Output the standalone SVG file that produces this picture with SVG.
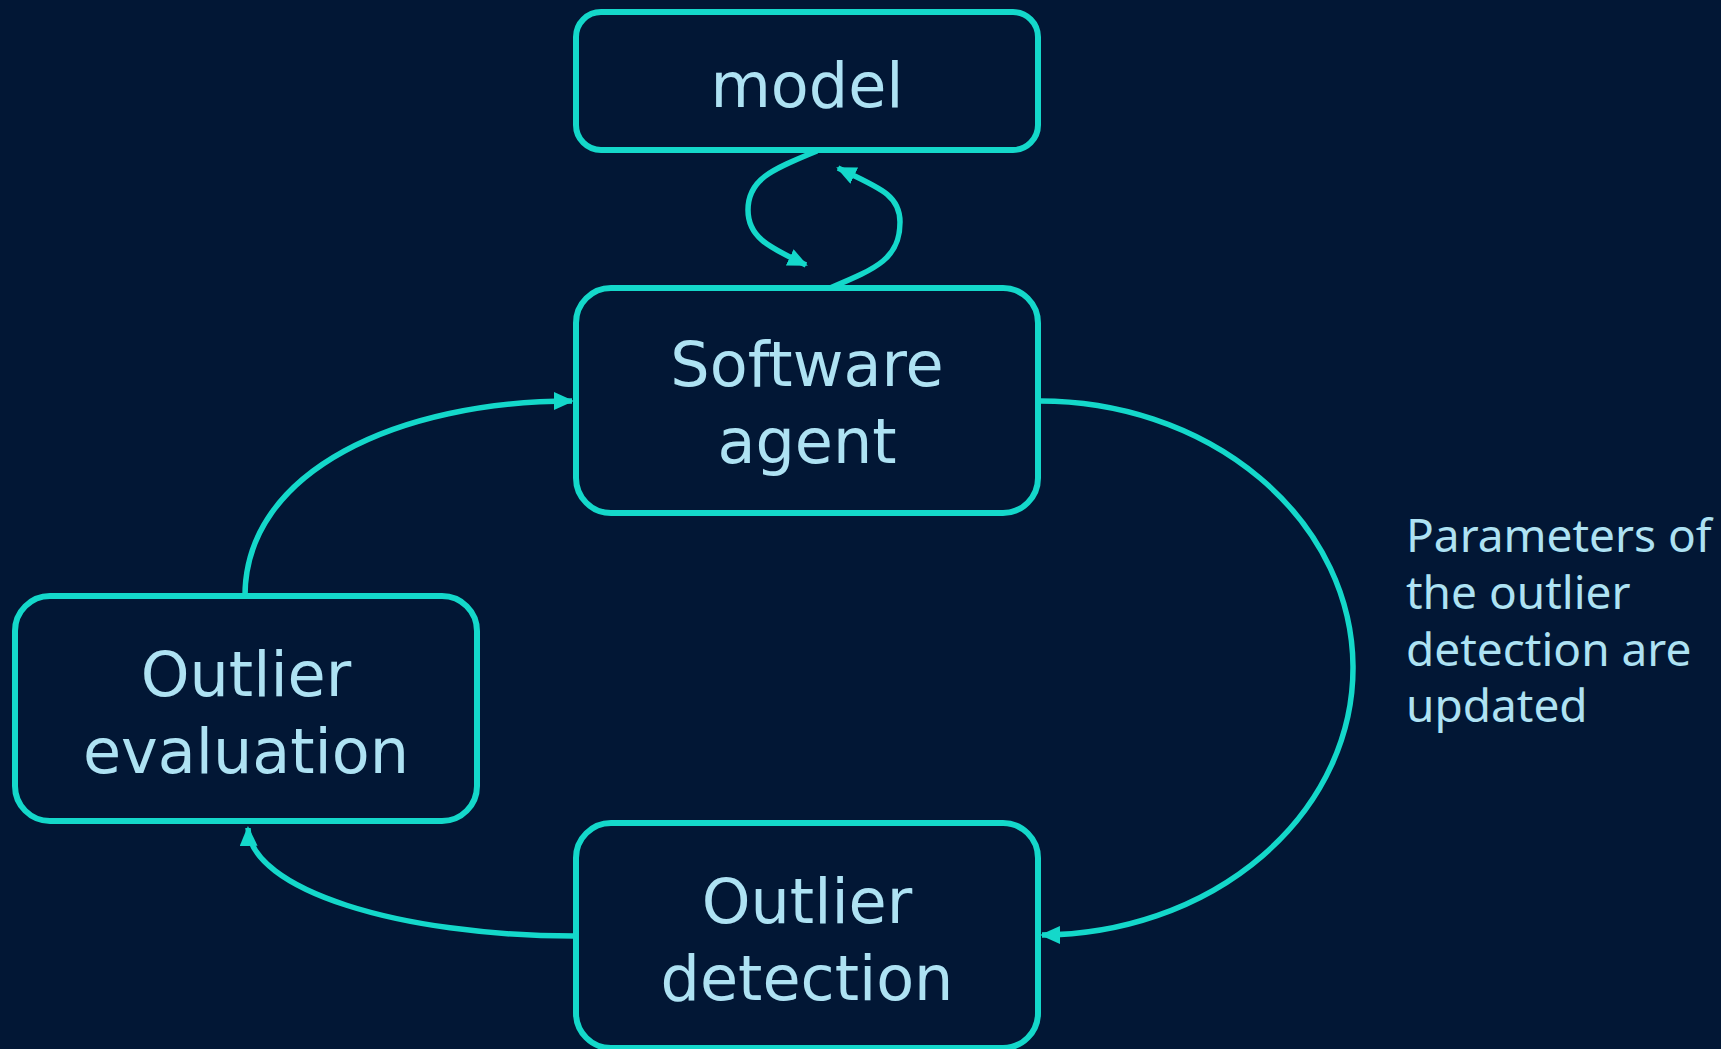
<svg xmlns="http://www.w3.org/2000/svg" width="1721" height="1049" viewBox="0 0 1721 1049">
<style>
.bg{fill:#021735}
.box{fill:#021735;stroke:#14d8ca;stroke-width:6}
.lbl{font-family:"DejaVu Sans",sans-serif;font-size:62px;fill:#aee2f3;text-anchor:middle}
.edge{fill:none;stroke:#14d8ca;stroke-width:5.5;marker-end:url(#arr)}
.note{font-family:"Noto Sans","Open Sans",sans-serif;font-size:46px;fill:#aee2f3}
</style>
<defs>
<marker id="arr" markerUnits="userSpaceOnUse" markerWidth="24" markerHeight="22" refX="18" refY="9" orient="auto">
<path d="M0,0 L20,9 L0,18 Z" fill="#14d8ca"/>
</marker>
</defs>
<rect class="bg" x="0" y="0" width="1721" height="1049"/>
<g id="connectors">
<path class="edge" d="M817,151 C770,170 748,180 748,210 C748,236 766,246 806,265"/>
<path class="edge" d="M830,288 C878,268 900,258 900,222 C900,195 880,188 838,168"/>
<path class="edge" d="M245,596 C245,470 400,401 572,401"/>
<path class="edge" d="M1038,401 A313,267 0 0 1 1042,935"/>
<path class="edge" d="M574,936 C400,936 250,890 248,828"/>
</g>
<g id="model">
<rect class="box" x="576" y="12" width="462" height="138" rx="25"/>
<text class="lbl" x="807" y="107">model</text>
</g>
<g id="software-agent">
<rect class="box" x="576" y="288" width="462" height="225" rx="35"/>
<text class="lbl" x="807" y="386">Software</text>
<text class="lbl" x="807" y="463">agent</text>
</g>
<g id="outlier-evaluation">
<rect class="box" x="15" y="596" width="462" height="225" rx="35"/>
<text class="lbl" x="246" y="696">Outlier</text>
<text class="lbl" x="246" y="773">evaluation</text>
</g>
<g id="outlier-detection">
<rect class="box" x="576" y="823" width="462" height="225" rx="35"/>
<text class="lbl" x="807" y="923">Outlier</text>
<text class="lbl" x="807" y="1000">detection</text>
</g>
<g id="note">
<text class="note" x="1406" y="552">Parameters of</text>
<text class="note" x="1406" y="609">the outlier</text>
<text class="note" x="1406" y="666">detection are</text>
<text class="note" x="1406" y="722">updated</text>
</g>
</svg>
